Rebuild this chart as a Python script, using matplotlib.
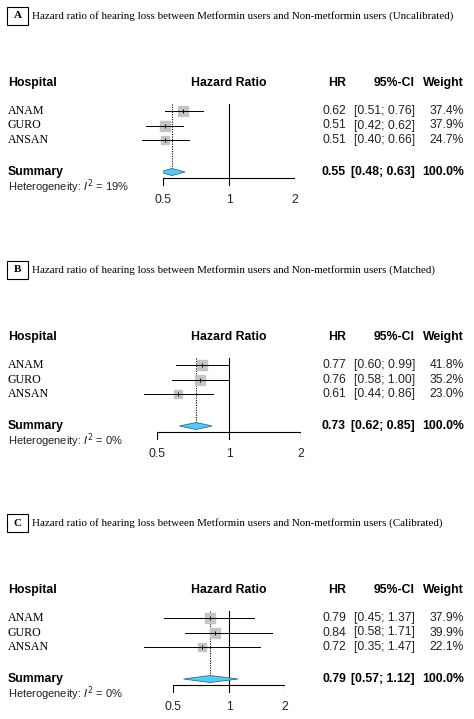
import matplotlib

matplotlib.use("Agg")
import matplotlib.pyplot as plt
from matplotlib.patches import Polygon, Rectangle

W, H = 474, 719

letters = ["A", "B", "C"]
titles = [
    "Hazard ratio of hearing loss between Metformin users and Non-metformin users (Uncalibrated)",
    "Hazard ratio of hearing loss between Metformin users and Non-metformin users (Matched)",
    "Hazard ratio of hearing loss between Metformin users and Non-metformin users (Calibrated)",
]
hospitals = ["ANAM", "GURO", "ANSAN"]
hr = [[0.62, 0.51, 0.51], [0.77, 0.76, 0.61], [0.79, 0.84, 0.72]]
lo = [[0.51, 0.42, 0.40], [0.60, 0.58, 0.44], [0.45, 0.58, 0.35]]
hi = [[0.76, 0.62, 0.66], [0.99, 1.00, 0.86], [1.37, 1.71, 1.47]]
weight = [[37.4, 37.9, 24.7], [41.8, 35.2, 23.0], [37.9, 39.9, 22.1]]
sum_hr = [0.55, 0.73, 0.79]
sum_lo = [0.48, 0.62, 0.57]
sum_hi = [0.63, 0.85, 1.12]
i2 = ["19%", "0%", "0%"]
ticks = [0.5, 1, 2]
tick_labels = ["0.5", "1", "2"]

# layout in pixels
panel_top = [0, 254, 507]
half_span = [66, 72, 56]  # px from 1 to 2 on each panel's log axis

SERIF = "Liberation Serif"
SANS = "Liberation Sans"

fig = plt.figure(figsize=(W / 100, H / 100), dpi=100)


def ftext(x, y, s, **kw):
    fig.text(x / W, 1 - y / H, s, **kw)


for p in range(3):
    t = panel_top[p]
    s = half_span[p]
    ax = fig.add_axes([(229 - s) / W, 0, 2 * s / W, 1])
    ax.set_xscale("log")
    ax.set_xlim(0.5, 2)
    ax.set_ylim(H, 0)
    ax.axis("off")

    # title box
    fig.add_artist(Rectangle((7 / W, 1 - (t + 25) / H), 21 / W, 18 / H,
                             transform=fig.transFigure, fill=False, lw=0.8, ec="black"))
    ftext(17.5, t + 16, letters[p], family=SERIF, weight="bold", fontsize=8,
          ha="center", va="center")
    ftext(32, t + 16, titles[p], family=SERIF, fontsize=7.9, va="center")

    hdr = t + 83
    hk = dict(family=SANS, weight="bold", fontsize=8.8, va="center")
    ftext(8, hdr, "Hospital", ha="left", **hk)
    ftext(229, hdr, "Hazard Ratio", ha="center", **hk)
    ftext(346, hdr, "HR", ha="right", **hk)
    ftext(415, hdr, "95%-CI", ha="right", **hk)
    ftext(464, hdr, "Weight", ha="right", **hk)

    rows = [hdr + 28, hdr + 42.5, hdr + 57]
    ys = hdr + 89
    axis_y = hdr + 95

    # reference line at 1 and summary dotted line
    ax.plot([1, 1], [hdr + 21, axis_y], color="black", lw=0.8)
    ax.plot([sum_hr[p]] * 2, [hdr + 21, ys - 3], color="black", lw=0.8, ls=(0, (1, 1.2)))

    for i, name in enumerate(hospitals):
        y = rows[i]
        side = 16 * (weight[p][i] / 100) ** 0.5
        ax.plot([hr[p][i]], [y], marker="s", ms=side * 0.72, color="#c4c4c4",
                mec="#c4c4c4", clip_on=False, zorder=2)
        ax.plot([lo[p][i], hi[p][i]], [y, y], color="black", lw=0.7, clip_on=False, zorder=3)
        ax.plot([hr[p][i]], [y], marker="|", ms=3, color="black", mew=0.7, zorder=4)
        ftext(8, y, name, family=SERIF, fontsize=8.6, va="center")
        rk = dict(family=SANS, fontsize=8.7, va="center", ha="right", color="#222222")
        ftext(346, y, f"{hr[p][i]:.2f}", **rk)
        ftext(415, y, f"[{lo[p][i]:.2f}; {hi[p][i]:.2f}]", **rk)
        ftext(464, y, f"{weight[p][i]:.1f}%", **rk)

    ax.add_patch(Polygon([(sum_lo[p], ys), (sum_hr[p], ys - 3.5),
                          (sum_hi[p], ys), (sum_hr[p], ys + 3.5)],
                         closed=True, fc="#5cc8f2", ec="#2a6f90", lw=0.6, zorder=3))
    sk = dict(family=SANS, weight="bold", fontsize=8.8, va="center")
    ftext(8, ys, "Summary", ha="left", **sk)
    ftext(346, ys, f"{sum_hr[p]:.2f}", ha="right", **sk)
    ftext(415, ys, f"[{sum_lo[p]:.2f}; {sum_hi[p]:.2f}]", ha="right", **sk)
    ftext(464, ys, "100.0%", ha="right", **sk)
    ftext(8, ys + 15, f"Heterogeneity: $I^2$ = {i2[p]}", family=SANS, fontsize=8,
          va="center", color="#222222")

    # x axis
    ax.plot([0.5, 2], [axis_y, axis_y], color="black", lw=0.8)
    for tv, tl in zip(ticks, tick_labels):
        ax.plot([tv, tv], [axis_y, axis_y + 7], color="black", lw=0.8)
        ax.text(tv, axis_y + 22, tl, family=SANS, fontsize=8.7, ha="center", va="center",
                color="#222222")

fig.savefig("out.png", dpi=100)
